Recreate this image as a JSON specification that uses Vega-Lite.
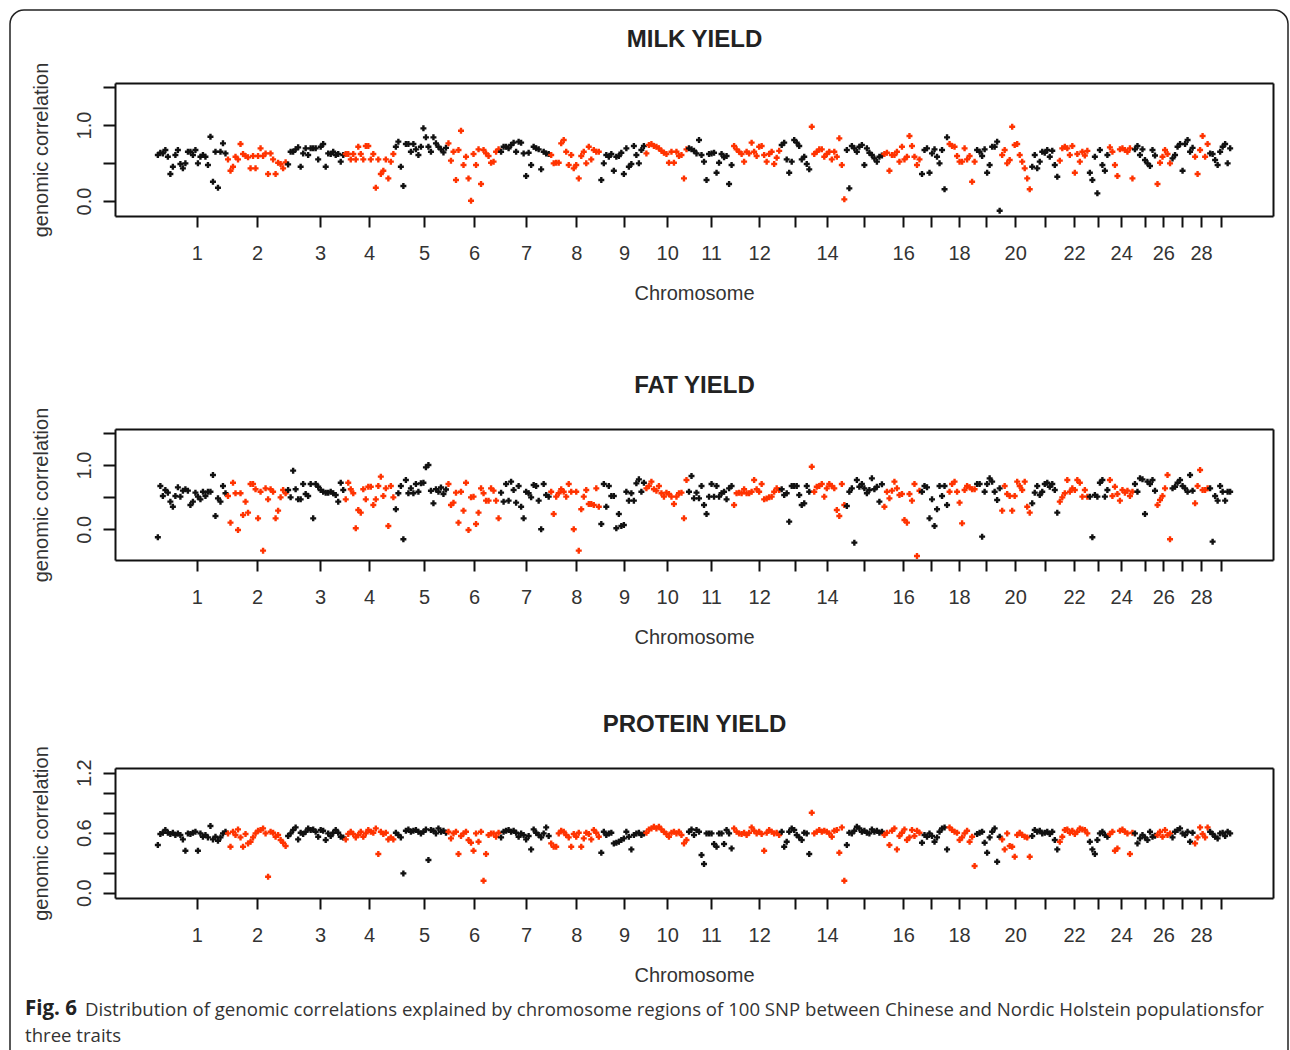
{
  "$schema": "https://vega.github.io/schema/vega-lite/v6.json",
  "autosize": {"type": "pad"},
  "padding": {"left": 9, "top": 9, "right": 0, "bottom": 0},
  "background": "white",
  "title": {
    "text": "Distribution of genomic correlations explained by chromosome regions of 100 SNP between Chinese and Nordic Holstein populationsfor",
    "orient": "bottom", "anchor": "start", "frame": "group", "offset": -55, "dx": 75,
    "baseline": "alphabetic", "font": "Open Sans", "fontSize": 18.6, "fontWeight": "normal", "color": "#333"
  },
  "vconcat": [
    {
      "width": 1278,
      "height": 1060,
      "title": {
        "text": "Fig. 6", "subtitle": "three traits",
        "orient": "bottom", "anchor": "start", "frame": "group", "offset": -55, "dx": 15,
        "baseline": "alphabetic", "font": "Open Sans", "fontSize": 20.5, "fontWeight": "bold", "color": "#222",
        "subtitleFont": "Open Sans", "subtitleFontSize": 18.6, "subtitleFontWeight": "normal", "subtitleColor": "#333", "subtitlePadding": 6
      },
      "data": {"values": [
        {"c":1,"i":[1,2,3,4,5,6,7,8,9,10,11,12,13,14,15,16,17,18,19,20,21,22,23,24,25,26,27,28],
         "m":[0.605,0.636,0.627,0.671,0.583,0.355,0.452,0.605,0.671,0.487,0.43,0.496,0.649,0.649,0.605,0.671,0.496,0.583,0.605,0.583,0.474,0.846,0.254,0.649,0.175,0.649,0.759,0.627],
         "f":[-0.124,0.674,0.518,0.611,0.57,0.43,0.352,0.518,0.653,0.508,0.601,0.622,0.601,0.378,0.43,0.57,0.508,0.466,0.585,0.518,0.585,0.585,0.845,0.207,0.482,0.43,0.674,0.56],
         "p":[0.477,0.587,0.6,0.627,0.6,0.587,0.6,0.577,0.593,0.577,0.533,0.42,0.593,0.587,0.6,0.61,0.42,0.593,0.56,0.577,0.553,0.667,0.533,0.56,0.52,0.553,0.593,0.61]},
        {"c":2,"i":[29,30,31,32,33,34,35,36,37,38,39,40,41,42,43,44,45,46,47,48,49,50,51,52],
         "m":[0.548,0.399,0.452,0.583,0.548,0.75,0.618,0.592,0.575,0.43,0.592,0.43,0.592,0.693,0.592,0.627,0.355,0.627,0.548,0.355,0.504,0.487,0.43,0.509],
         "f":[0.518,0.104,0.725,0.56,-0.01,0.56,0.223,0.43,0.259,0.705,0.705,0.622,0.171,0.585,-0.332,0.637,0.466,0.622,0.585,0.171,0.29,0.497,0.611,0.56],
         "p":[0.593,0.46,0.61,0.577,0.633,0.553,0.46,0.587,0.493,0.51,0.553,0.593,0.62,0.627,0.643,0.593,0.16,0.61,0.6,0.56,0.577,0.527,0.5,0.467]},
        {"c":3,"i":[53,54,55,56,57,58,59,60,61,62,63,64,65,66,67,68,69,70,71,72,73,74,75],
         "m":[0.482,0.649,0.649,0.68,0.706,0.452,0.627,0.693,0.605,0.693,0.693,0.693,0.548,0.715,0.75,0.452,0.627,0.618,0.649,0.605,0.618,0.518,0.605],
         "f":[0.611,0.497,0.912,0.622,0.466,0.466,0.705,0.549,0.518,0.705,0.171,0.705,0.663,0.611,0.585,0.57,0.57,0.585,0.56,0.534,0.43,0.725,0.611],
         "p":[0.567,0.593,0.627,0.653,0.533,0.6,0.587,0.61,0.643,0.627,0.633,0.61,0.56,0.627,0.62,0.527,0.593,0.567,0.6,0.627,0.6,0.56,0.553]},
        {"c":4,"i":[76,77,78,79,80,81,82,83,84,85,86,87,88,89,90,91,92,93,94,95],
         "m":[0.618,0.618,0.548,0.618,0.548,0.715,0.618,0.548,0.724,0.724,0.548,0.618,0.175,0.548,0.355,0.399,0.548,0.298,0.518,0.618],
         "f":[0.466,0.725,0.622,0.56,0.016,0.301,0.259,0.622,0.466,0.663,0.663,0.378,0.466,0.674,0.819,0.518,0.637,0.052,0.674,0.497],
         "p":[0.533,0.587,0.61,0.587,0.553,0.577,0.61,0.56,0.593,0.627,0.61,0.6,0.643,0.387,0.61,0.587,0.6,0.533,0.553,0.533]},
        {"c":5,"i":[96,97,98,99,100,101,102,103,104,105,106,107,108,109,110,111,112,113,114,115,116],
         "m":[0.715,0.781,0.452,0.197,0.75,0.75,0.649,0.75,0.68,0.605,0.715,0.956,0.838,0.715,0.649,0.838,0.759,0.715,0.68,0.64,0.7],
         "f":[0.311,0.56,0.674,-0.155,0.767,0.56,0.637,0.56,0.705,0.585,0.715,0.725,0.964,1.0,0.6,0.404,0.622,0.585,0.65,0.55,0.62],
         "p":[0.6,0.577,0.553,0.193,0.62,0.633,0.61,0.62,0.627,0.61,0.593,0.61,0.633,0.327,0.627,0.62,0.593,0.643,0.61,0.62,0.6]},
        {"c":6,"i":[117,118,119,120,121,122,123,124,125,126,127,128,129,130,131,132,133,134,135,136,137],
         "m":[0.759,0.531,0.649,0.276,0.671,0.925,0.474,0.583,0.298,0.004,0.618,0.474,0.68,0.224,0.671,0.627,0.592,0.504,0.518,0.649,0.68],
         "f":[0.705,0.378,0.415,0.57,0.104,0.585,0.29,0.725,-0.01,0.497,0.508,0.083,0.259,0.637,0.56,0.446,0.446,0.637,0.601,0.446,0.171],
         "p":[0.61,0.543,0.593,0.61,0.387,0.567,0.593,0.61,0.527,0.5,0.42,0.593,0.51,0.61,0.12,0.387,0.577,0.593,0.593,0.56,0.6]},
        {"c":7,"i":[138,139,140,141,142,143,144,145,146,147,148,149,150,151,152,153,154,155,156,157],
         "m":[0.649,0.715,0.715,0.693,0.737,0.768,0.649,0.781,0.768,0.627,0.329,0.636,0.474,0.715,0.693,0.68,0.417,0.649,0.627,0.618],
         "f":[0.57,0.43,0.705,0.446,0.741,0.611,0.415,0.674,0.352,0.171,0.585,0.56,0.497,0.689,0.674,0.446,0.0,0.705,0.534,0.508],
         "p":[0.553,0.61,0.62,0.627,0.61,0.62,0.6,0.56,0.593,0.577,0.533,0.567,0.433,0.633,0.6,0.577,0.553,0.593,0.653,0.567]},
        {"c":8,"i":[158,159,160,161,162,163,164,165,166,167,168,169,170,171,172,173,174,175,176,177],
         "m":[0.605,0.496,0.504,0.504,0.759,0.803,0.649,0.474,0.605,0.43,0.474,0.298,0.592,0.649,0.496,0.715,0.548,0.671,0.649,0.649],
         "f":[0.585,0.238,0.508,0.56,0.622,0.585,0.508,0.705,0.585,0.0,0.585,-0.332,0.311,0.508,0.611,0.394,0.394,0.378,0.637,0.352],
         "p":[0.493,0.46,0.46,0.593,0.62,0.61,0.577,0.553,0.46,0.587,0.56,0.6,0.46,0.543,0.6,0.587,0.533,0.627,0.6,0.56]},
        {"c":9,"i":[178,179,180,181,182,183,184,185,186,187,188,189,190,191,192,193,194,195],
         "m":[0.276,0.496,0.605,0.583,0.618,0.399,0.583,0.592,0.636,0.355,0.693,0.452,0.487,0.724,0.605,0.496,0.671,0.724],
         "f":[0.083,0.705,0.352,0.674,0.518,0.518,0.016,0.238,0.052,0.067,0.585,0.446,0.56,0.446,0.715,0.777,0.585,0.725],
         "p":[0.4,0.61,0.577,0.593,0.6,0.493,0.5,0.51,0.527,0.543,0.61,0.56,0.433,0.577,0.593,0.6,0.577,0.593]},
        {"c":10,"i":[196,197,198,199,200,201,202,203,204,205,206,207,208,209,210,211,212],
         "m":[0.627,0.737,0.75,0.724,0.715,0.693,0.662,0.636,0.618,0.504,0.649,0.504,0.649,0.592,0.605,0.298,0.68],
         "f":[0.637,0.674,0.741,0.622,0.601,0.674,0.56,0.508,0.57,0.549,0.508,0.394,0.508,0.56,0.57,0.171,0.767],
         "p":[0.6,0.633,0.643,0.66,0.643,0.66,0.633,0.61,0.587,0.56,0.6,0.61,0.593,0.61,0.577,0.493,0.527]},
        {"c":11,"i":[213,214,215,216,217,218,219,220,221,222,223,224,225,226,227,228,229,230],
         "m":[0.693,0.68,0.662,0.627,0.803,0.605,0.518,0.276,0.618,0.627,0.636,0.373,0.504,0.618,0.575,0.592,0.224,0.474],
         "f":[0.585,0.829,0.482,0.57,0.482,0.674,0.378,0.238,0.508,0.705,0.508,0.674,0.508,0.56,0.585,0.466,0.637,0.674],
         "p":[0.61,0.633,0.577,0.627,0.61,0.377,0.287,0.593,0.593,0.593,0.487,0.46,0.593,0.593,0.487,0.627,0.593,0.443]},
        {"c":12,"i":[231,232,233,234,235,236,237,238,239,240,241,242,243,244,245,246,247,248,249],
         "m":[0.724,0.68,0.649,0.618,0.518,0.649,0.627,0.768,0.649,0.592,0.715,0.724,0.605,0.518,0.618,0.649,0.487,0.57,0.66],
         "f":[0.378,0.56,0.57,0.56,0.622,0.56,0.56,0.585,0.767,0.622,0.585,0.705,0.466,0.48,0.497,0.508,0.585,0.637,0.611],
         "p":[0.643,0.61,0.593,0.587,0.6,0.577,0.6,0.653,0.62,0.593,0.61,0.587,0.42,0.6,0.627,0.61,0.593,0.6,0.577]},
        {"c":13,"i":[250,251,252,253,254,255,256,257,258,259,260,261],
         "m":[0.737,0.768,0.548,0.373,0.518,0.803,0.768,0.724,0.548,0.583,0.487,0.417],
         "f":[0.622,0.534,0.56,0.119,0.674,0.674,0.674,0.534,0.378,0.404,0.674,0.585],
         "p":[0.61,0.46,0.51,0.61,0.643,0.627,0.577,0.553,0.527,0.6,0.593,0.387]},
        {"c":14,"i":[262,263,264,265,266,267,268,269,270,271,272,273,274,275],
         "m":[0.978,0.618,0.649,0.68,0.68,0.583,0.618,0.649,0.548,0.649,0.583,0.825,0.474,0.022],
         "f":[0.974,0.585,0.663,0.674,0.705,0.508,0.637,0.705,0.674,0.637,0.301,0.207,0.705,0.378],
         "p":[0.8,0.593,0.61,0.627,0.61,0.62,0.61,0.593,0.56,0.62,0.627,0.4,0.653,0.12]},
        {"c":15,"i":[276,277,278,279,280,281,282,283,284,285,286,287,288,289,290],
         "m":[0.671,0.167,0.724,0.693,0.649,0.715,0.737,0.474,0.693,0.636,0.605,0.561,0.518,0.583,0.6],
         "f":[0.363,0.585,0.637,-0.207,0.767,0.663,0.705,0.637,0.56,0.611,0.793,0.622,0.663,0.43,0.7],
         "p":[0.477,0.6,0.593,0.62,0.66,0.643,0.61,0.62,0.6,0.593,0.633,0.61,0.62,0.6,0.61]},
        {"c":16,"i":[291,292,293,294,295,296,297,298,299,300,301,302,303,304,305],
         "m":[0.618,0.636,0.399,0.605,0.605,0.649,0.518,0.715,0.548,0.583,0.855,0.724,0.583,0.474,0.548],
         "f":[0.352,0.585,0.482,0.601,0.741,0.637,0.534,0.549,0.145,0.104,0.549,0.446,0.705,-0.415,0.6],
         "p":[0.577,0.6,0.477,0.62,0.643,0.433,0.567,0.6,0.633,0.527,0.553,0.627,0.567,0.62,0.6]},
        {"c":17,"i":[306,307,308,309,310,311,312,313,314,315,316],
         "m":[0.355,0.671,0.693,0.373,0.627,0.68,0.583,0.496,0.671,0.154,0.838],
         "f":[0.585,0.674,0.653,0.171,0.466,0.052,0.311,0.674,0.518,0.674,0.378],
         "p":[0.5,0.577,0.56,0.593,0.567,0.51,0.553,0.61,0.643,0.653,0.433]},
        {"c":18,"i":[317,318,319,320,321,322,323,324,325,326,327],
         "m":[0.75,0.724,0.715,0.592,0.518,0.518,0.693,0.548,0.592,0.254,0.518],
         "f":[0.585,0.705,0.741,0.585,0.415,0.093,0.611,0.674,0.653,0.622,0.622],
         "p":[0.653,0.627,0.61,0.6,0.527,0.553,0.593,0.62,0.51,0.56,0.267]},
        {"c":19,"i":[328,329,330,331,332,333,334,335,336,337],
         "m":[0.671,0.649,0.592,0.68,0.373,0.474,0.715,0.715,0.781,-0.127],
         "f":[0.705,0.705,-0.114,0.585,0.705,0.793,0.741,0.585,0.456,0.637],
         "p":[0.587,0.6,0.61,0.5,0.4,0.553,0.61,0.643,0.31,0.56]},
        {"c":20,"i":[338,339,340,341,342,343,344,345,346,347,348,349],
         "m":[0.605,0.671,0.496,0.539,0.978,0.737,0.75,0.605,0.518,0.43,0.298,0.154],
         "f":[0.29,0.674,0.549,0.518,0.29,0.518,0.741,0.674,0.611,0.741,0.352,0.259],
         "p":[0.533,0.433,0.593,0.467,0.46,0.36,0.577,0.6,0.577,0.56,0.553,0.36]},
        {"c":21,"i":[350,351,352,353,354,355,356,357,358,359,360],
         "m":[0.452,0.605,0.43,0.518,0.649,0.636,0.671,0.583,0.662,0.474,0.32],
         "f":[0.404,0.57,0.674,0.534,0.585,0.705,0.725,0.663,0.705,0.611,0.259],
         "p":[0.567,0.627,0.61,0.62,0.593,0.6,0.61,0.587,0.61,0.527,0.433]},
        {"c":22,"i":[361,362,363,364,365,366,367,368,369,370,371,372],
         "m":[0.531,0.693,0.715,0.693,0.605,0.724,0.373,0.618,0.518,0.649,0.6,0.66],
         "f":[0.43,0.497,0.56,0.767,0.585,0.637,0.611,0.767,0.725,0.508,0.611,0.508],
         "p":[0.51,0.56,0.627,0.633,0.6,0.62,0.587,0.61,0.643,0.633,0.627,0.593]},
        {"c":23,"i":[373,374,375,376,377,378,379,380],
         "m":[0.373,0.276,0.583,0.101,0.671,0.474,0.399,0.605],
         "f":[0.508,-0.124,0.534,0.508,0.725,0.767,0.508,0.611],
         "p":[0.51,0.433,0.387,0.527,0.593,0.61,0.577,0.56]},
        {"c":24,"i":[381,382,383,384,385,386,387,388,389,390],
         "m":[0.706,0.649,0.474,0.329,0.68,0.693,0.671,0.649,0.693,0.298],
         "f":[0.767,0.518,0.663,0.549,0.446,0.611,0.57,0.601,0.518,0.585],
         "p":[0.587,0.61,0.42,0.443,0.62,0.633,0.61,0.593,0.387,0.6]},
        {"c":25,"i":[391,392,393,394,395,396,397,398,399],
         "m":[0.68,0.724,0.605,0.68,0.539,0.496,0.461,0.671,0.6],
         "f":[0.705,0.585,0.793,0.777,0.238,0.741,0.705,0.767,0.6],
         "p":[0.593,0.493,0.543,0.577,0.553,0.527,0.61,0.56,0.57]},
        {"c":26,"i":[400,401,402,403,404,405],
         "m":[0.224,0.504,0.583,0.671,0.618,0.496],
         "f":[0.378,0.456,0.518,0.637,0.845,-0.155],
         "p":[0.577,0.61,0.56,0.627,0.577,0.593]},
        {"c":27,"i":[406,407,408,409,410,411,412,413,414],
         "m":[0.561,0.605,0.715,0.75,0.399,0.75,0.803,0.649,0.7],
         "f":[0.637,0.663,0.725,0.767,0.674,0.637,0.585,0.845,0.6],
         "p":[0.553,0.61,0.627,0.643,0.593,0.577,0.61,0.51,0.6]},
        {"c":28,"i":[415,416,417,418,419,420],
         "m":[0.583,0.355,0.671,0.855,0.583,0.75],
         "f":[0.404,0.674,0.922,0.611,0.611,0.637],
         "p":[0.493,0.553,0.653,0.587,0.553,0.653]},
        {"c":29,"i":[421,422,423,424,425,426,427,428,429],
         "m":[0.627,0.618,0.539,0.474,0.649,0.715,0.75,0.496,0.693],
         "f":[0.637,-0.192,0.518,0.446,0.674,0.585,0.446,0.585,0.585],
         "p":[0.61,0.587,0.56,0.543,0.593,0.6,0.567,0.61,0.593]}
      ]},
      "transform": [
        {"flatten": ["i", "m", "f", "p"]},
        {"calculate": "datum.c % 2 == 1 ? 'odd' : 'even'", "as": "g"}
      ],
      "resolve": {
        "scale": {"x": "independent", "y": "independent", "color": "shared"},
        "axis": {"x": "independent", "y": "independent"}
      },
      "layer": [
        {
          "mark": {"type": "point", "shape": "cross", "filled": true, "size": 36, "opacity": 1},
          "encoding": {
            "x": {"field": "i", "type": "quantitative",
                  "scale": {"domain": [-16.1, 446.1], "range": [105, 1263], "nice": false, "zero": false},
                  "axis": {"orient": "bottom", "offset": -854, "title": "Chromosome",
                           "values": [16.6,40.6,65.7,85.3,107.3,127.2,148,168,187.1,204.3,221.8,241,255.4,268.1,282.9,298.5,309.6,320.8,331.6,343.2,355.2,366.7,376.3,385.5,395.1,402.3,409.9,417.4,425.2],
                           "labelExpr": "['1','2','3','4','5','6','7','8','9','10','11','12','','14','','16','','18','','20','','22','','24','','26','','28',''][indexof([16.6,40.6,65.7,85.3,107.3,127.2,148,168,187.1,204.3,221.8,241,255.4,268.1,282.9,298.5,309.6,320.8,331.6,343.2,355.2,366.7,376.3,385.5,395.1,402.3,409.9,417.4,425.2], datum.value)]",
                           "tickSize": 11, "labelPadding": 16, "labelAngle": 0, "labelAlign": "center", "labelBaseline": "top", "titlePadding": 20}},
            "y": {"field": "m", "type": "quantitative",
                  "scale": {"domain": [-0.197, 1.553], "range": [206, 73], "nice": false, "zero": false},
                  "axis": {"orient": "left", "offset": -105, "title": "genomic correlation",
                           "values": [0, 0.5, 1, 1.5],
                           "labelExpr": "indexof([0, 1], datum.value) >= 0 ? format(datum.value, '.1f') : ''",
                           "tickSize": 12, "labelAngle": 270, "labelAlign": "center", "labelBaseline": "alphabetic", "labelPadding": 13,
                           "titleBaseline": "alphabetic", "titlePadding": 27}},
            "color": {"field": "g", "type": "nominal", "scale": {"domain": ["odd", "even"], "range": ["#111111", "#ff3300"]}, "legend": null}
          }
        },
        {
          "mark": {"type": "point", "opacity": 0},
          "encoding": {
            "x": {"field": "i", "type": "quantitative",
                  "scale": {"domain": [-16.1, 446.1], "range": [105, 1263], "nice": false, "zero": false},
                  "axis": {"orient": "top", "offset": -73, "title": "MILK YIELD", "ticks": false, "labels": false,
                           "titleFontWeight": "bold", "titleFontSize": 24, "titleColor": "#222", "titleBaseline": "alphabetic", "titlePadding": 37}},
            "y": {"field": "m", "type": "quantitative",
                  "scale": {"domain": [-0.197, 1.553], "range": [206, 73], "nice": false, "zero": false},
                  "axis": {"orient": "right", "offset": -15, "title": null, "ticks": false, "labels": false}}
          }
        },
        {
          "mark": {"type": "point", "shape": "cross", "filled": true, "size": 36, "opacity": 1},
          "encoding": {
            "x": {"field": "i", "type": "quantitative",
                  "scale": {"domain": [-16.1, 446.1], "range": [105, 1263], "nice": false, "zero": false},
                  "axis": {"orient": "bottom", "offset": -510, "title": "Chromosome",
                           "values": [16.6,40.6,65.7,85.3,107.3,127.2,148,168,187.1,204.3,221.8,241,255.4,268.1,282.9,298.5,309.6,320.8,331.6,343.2,355.2,366.7,376.3,385.5,395.1,402.3,409.9,417.4,425.2],
                           "labelExpr": "['1','2','3','4','5','6','7','8','9','10','11','12','','14','','16','','18','','20','','22','','24','','26','','28',''][indexof([16.6,40.6,65.7,85.3,107.3,127.2,148,168,187.1,204.3,221.8,241,255.4,268.1,282.9,298.5,309.6,320.8,331.6,343.2,355.2,366.7,376.3,385.5,395.1,402.3,409.9,417.4,425.2], datum.value)]",
                           "tickSize": 11, "labelPadding": 16, "labelAngle": 0, "labelAlign": "center", "labelBaseline": "top", "titlePadding": 20}},
            "y": {"field": "f", "type": "quantitative",
                  "scale": {"domain": [-0.477, 1.56], "range": [550, 419], "nice": false, "zero": false},
                  "axis": {"orient": "left", "offset": -105, "title": "genomic correlation",
                           "values": [0, 0.5, 1, 1.5],
                           "labelExpr": "indexof([0, 1], datum.value) >= 0 ? format(datum.value, '.1f') : ''",
                           "tickSize": 12, "labelAngle": 270, "labelAlign": "center", "labelBaseline": "alphabetic", "labelPadding": 13,
                           "titleBaseline": "alphabetic", "titlePadding": 27}},
            "color": {"field": "g", "type": "nominal", "scale": {"domain": ["odd", "even"], "range": ["#111111", "#ff3300"]}, "legend": null}
          }
        },
        {
          "mark": {"type": "point", "opacity": 0},
          "encoding": {
            "x": {"field": "i", "type": "quantitative",
                  "scale": {"domain": [-16.1, 446.1], "range": [105, 1263], "nice": false, "zero": false},
                  "axis": {"orient": "top", "offset": -419, "title": "FAT YIELD", "ticks": false, "labels": false,
                           "titleFontWeight": "bold", "titleFontSize": 24, "titleColor": "#222", "titleBaseline": "alphabetic", "titlePadding": 37}},
            "y": {"field": "f", "type": "quantitative",
                  "scale": {"domain": [-0.477, 1.56], "range": [550, 419], "nice": false, "zero": false},
                  "axis": {"orient": "right", "offset": -15, "title": null, "ticks": false, "labels": false}}
          }
        },
        {
          "mark": {"type": "point", "shape": "cross", "filled": true, "size": 36, "opacity": 1},
          "encoding": {
            "x": {"field": "i", "type": "quantitative",
                  "scale": {"domain": [-16.1, 446.1], "range": [105, 1263], "nice": false, "zero": false},
                  "axis": {"orient": "bottom", "offset": -172, "title": "Chromosome",
                           "values": [16.6,40.6,65.7,85.3,107.3,127.2,148,168,187.1,204.3,221.8,241,255.4,268.1,282.9,298.5,309.6,320.8,331.6,343.2,355.2,366.7,376.3,385.5,395.1,402.3,409.9,417.4,425.2],
                           "labelExpr": "['1','2','3','4','5','6','7','8','9','10','11','12','','14','','16','','18','','20','','22','','24','','26','','28',''][indexof([16.6,40.6,65.7,85.3,107.3,127.2,148,168,187.1,204.3,221.8,241,255.4,268.1,282.9,298.5,309.6,320.8,331.6,343.2,355.2,366.7,376.3,385.5,395.1,402.3,409.9,417.4,425.2], datum.value)]",
                           "tickSize": 11, "labelPadding": 16, "labelAngle": 0, "labelAlign": "center", "labelBaseline": "top", "titlePadding": 20}},
            "y": {"field": "p", "type": "quantitative",
                  "scale": {"domain": [-0.053, 1.247], "range": [888, 758], "nice": false, "zero": false},
                  "axis": {"orient": "left", "offset": -105, "title": "genomic correlation",
                           "values": [0, 0.2, 0.4, 0.6, 0.8, 1, 1.2],
                           "labelExpr": "indexof([0, 0.6, 1.2], datum.value) >= 0 ? format(datum.value, '.1f') : ''",
                           "tickSize": 12, "labelAngle": 270, "labelAlign": "center", "labelBaseline": "alphabetic", "labelPadding": 13,
                           "titleBaseline": "alphabetic", "titlePadding": 27}},
            "color": {"field": "g", "type": "nominal", "scale": {"domain": ["odd", "even"], "range": ["#111111", "#ff3300"]}, "legend": null}
          }
        },
        {
          "mark": {"type": "point", "opacity": 0},
          "encoding": {
            "x": {"field": "i", "type": "quantitative",
                  "scale": {"domain": [-16.1, 446.1], "range": [105, 1263], "nice": false, "zero": false},
                  "axis": {"orient": "top", "offset": -758, "title": "PROTEIN YIELD", "ticks": false, "labels": false,
                           "titleFontWeight": "bold", "titleFontSize": 24, "titleColor": "#222", "titleBaseline": "alphabetic", "titlePadding": 37}},
            "y": {"field": "p", "type": "quantitative",
                  "scale": {"domain": [-0.053, 1.247], "range": [888, 758], "nice": false, "zero": false},
                  "axis": {"orient": "right", "offset": -15, "title": null, "ticks": false, "labels": false}}
          }
        }
      ]
    }
  ],
  "config": {
    "view": {"stroke": "#222", "strokeWidth": 1.5, "cornerRadius": 14, "fill": "white"},
    "concat": {"spacing": 0},
    "axis": {
      "grid": false, "domain": true, "domainColor": "#111", "domainWidth": 2,
      "tickColor": "#111", "tickWidth": 2,
      "labelFont": "Liberation Sans", "labelFontSize": 20, "labelColor": "#333",
      "labelOverlap": false, "labelFlush": false,
      "titleFont": "Liberation Sans", "titleFontSize": 20, "titleFontWeight": "normal", "titleColor": "#333"
    }
  }
}
